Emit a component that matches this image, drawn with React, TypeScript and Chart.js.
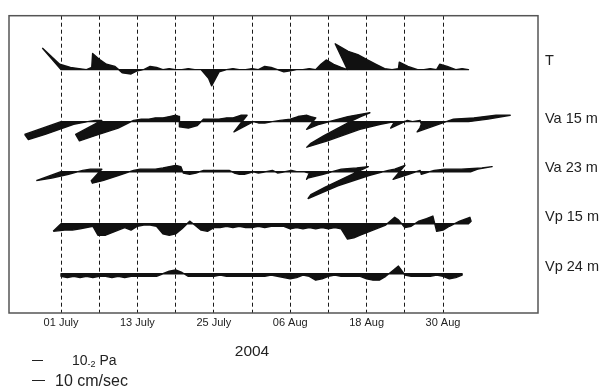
import React, { useEffect, useRef } from 'react';
import { Chart, registerables } from 'chart.js';

Chart.register(...registerables);

// ---- time axis (days since 01 July 2004) ----
const DAY_MIN = -8.17;
const DAY_MAX = 74.92;
const GRID_DAYS = [0, 6, 12, 18, 24, 30, 36, 42, 48, 54, 60];
const LABEL_DAYS = [0, 12, 24, 36, 48, 60];
const TICK_LABELS = ['01 July', '13 July', '25 July', '06 Aug', '18 Aug', '30 Aug'];
const YEAR_LABEL = '2004';
const ROW_LABELS = ['T', 'Va 15 m', 'Va 23 m', 'Vp 15 m', 'Vp 24 m'];

// ---- daily vectors from 01 July ----
// wind stress T (units of 10^-3 Pa)
const T_U = [-17, -7, -3, -1, 0, -1, -6, -5, -5, -3, -2, 0, 0, 0, 0, 0, 0, 0, 0, 0, 0, 0, 0, 1, -2, -1, 0, 0, 0, 0, 0, 0, 0, 0, 0, 0, 0, 0, 0, 0, 0, -1, -2, -1, 0, 0, -17, -11, -8, -5, -3, -1, 0, 0, -5, -3, 0, 0, 0, 0, -3, -2, 0, 0, 0];
const T_V = [20, 5, 2, 1, 0, 2, 15, 9, 5, 3, -3, -4, -1, 0, 3, 2, 0, 1, 0, 0, 1, 0, 0, -8, -15, -2, 0, 1, 0, 0, 1, 0, 3, 2, 0, -2, -1, 0, 0, 1, 0, 5, 9, 5, 2, 0, 24, 17, 14, 9, 5, 1, 0, 1, 7, 3, 0, 0, 1, 0, 5, 3, 0, 1, 0];
// currents (cm/s)
const VA15_U = [-28, -30, -22, -5, 1, 2, 2, -23, -25, -18, -5, 2, 3, 4, 4, 5, 5, 5, 3, -2, 0, 2, 2, 3, 4, 5, 5, 6, 6, -9, 1, 0, 0, 1, 2, 5, 6, 8, 6, 5, -7, -2, 15, 27, 15, 4, -23, -38, -46, -35, -15, -4, 2, -6, 2, 1, 2, -2, -8, -15, 8, 19, 31, 37, 15];
const VA15_V = [-10, -14, -10, -2, 0, 1, 1, -10, -15, -11, -5, 1, 2, 2, 3, 3, 4, 5, 4, -4, -5, -3, 2, 2, 2, 3, 3, 5, 5, -8, 0, -1, -1, 0, 1, 2, 4, 5, 4, 3, -6, -2, 4, 7, 4, 1, -11, -17, -20, -15, -6, -2, 0, -5, 1, 0, 1, -2, -5, -8, 2, 3, 5, 5, 2];
const VA23_U = [-19, -12, -4, 2, 3, 4, 2, -11, -15, -12, -5, 2, 2, 3, 4, 5, 5, 5, 4, 1, 1, 1, 2, 2, 2, 2, 2, 1, 0, -1, 1, 0, 1, 1, 0, 1, 1, 0, 1, 0, -7, -11, -4, 5, 12, 16, -22, -38, -45, -27, -8, 2, 2, 5, -9, -2, 2, -2, 3, 6, 14, 25, 28, 12, 2];
const VA23_V = [-7, -5, -2, 1, 2, 2, 2, -7, -9, -7, -3, 1, 2, 2, 2, 3, 4, 5, 4, -1, -2, -1, 1, 1, 1, 1, 1, -1, -2, -2, 0, -1, 0, 1, -1, 0, 1, 0, 0, -1, -6, -5, -2, 2, 3, 4, -12, -18, -21, -11, -3, 1, 2, 5, -6, -2, 1, -2, 1, 2, 2, 3, 4, 2, 0];
const VP15_U = [-6, -2, -1, 0, 0, 0, -1, 0, 0, 0, 0, 0, 0, 0, 0, 0, 0, 0, 0, 0, 1, 0, 0, 0, 0, 0, 0, 0, 0, 0, 0, 0, 0, 0, 0, 0, 0, 0, 0, 0, 0, 0, 0, 0, 0, 0, 0, 0, 0, 0, 0, 0, 2, 0, 0, 0, 1, 2, 2, 0, 0, 0, 3, 6, 2];
const VP15_V = [-6, -5, -5, -4, -3, -2, -9, -9, -7, -5, -3, -5, -2, -1, -1, -2, -8, -9, -8, -4, 2, -1, -5, -6, -3, -3, -2, -3, -2, -3, -3, -2, -3, -2, -2, -2, -4, -3, -4, -3, -4, -3, -4, -3, -4, -12, -11, -9, -7, -5, -3, -1, 5, 3, -3, -2, 2, 4, 6, -6, -5, -2, 2, 5, 2];
const VP24_U = [0, 0, 0, 0, 0, 0, 0, 0, 0, 0, 0, 0, 0, 0, 0, 0, 0, 0, 0, 0, 0, 0, 0, 0, 0, 0, 0, 0, 0, 0, 0, 0, 0, 0, 0, 0, 0, 0, 0, 0, 0, 0, 0, 0, 0, 0, 0, 0, 0, 0, 0, 0, 0, 0, 0, 0, 0, 0, 0, 0, 0, 0, 0, 0];
const VP24_V = [-2, -3, -2, -3, -2, -3, -2, -2, -3, -2, -3, -2, -2, -2, -2, -2, 0, 2, 3, 1, -2, -2, -2, -2, -2, -1, -2, -2, -2, -2, -2, -2, -2, -1, -2, -3, -4, -3, -1, -2, -5, -4, -2, -1, -2, -2, -2, -2, -4, -5, -5, -2, 2, 6, -1, -2, -2, -2, -2, -1, -2, -4, -3, -1];

// ---- layout / scale constants ----
const PLOT_LEFT = 9;
const PLOT_TOP = 10;
const PLOT_W = 529;
const PLOT_H = 303;
const X_AXIS_H = 387 - PLOT_TOP - PLOT_H;
const RIGHT_AXIS_W = 599 - PLOT_LEFT - PLOT_W;
const PX_PER_DAY = PLOT_W / (DAY_MAX - DAY_MIN);
const PX_PER_STRESS = 1.1; // px per 10^-3 Pa
const PX_PER_CMS = 1.3; // px per cm/s
const ROW_BASE = [55, 108, 159, 212, 263];
const ROW_LABEL_Y = [46, 105, 155, 205, 256];
const FONT = '"Liberation Sans", Arial, sans-serif';

function stickPolygon(u: number[], v: number[], k: number, base: number) {
  const tips = u.map((ui, i) => ({ x: i + (ui * k) / PX_PER_DAY, y: base - v[i] * k }));
  const bases = u.map((_, i) => ({ x: i, y: base })).reverse();
  return [...tips, ...bases, tips[0]];
}

const ROWS = [
  { u: T_U, v: T_V, k: PX_PER_STRESS },
  { u: VA15_U, v: VA15_V, k: PX_PER_CMS },
  { u: VA23_U, v: VA23_V, k: PX_PER_CMS },
  { u: VP15_U, v: VP15_V, k: PX_PER_CMS },
  { u: VP24_U, v: VP24_V, k: PX_PER_CMS },
];

const framePlugin = {
  id: 'frame',
  afterDatasetsDraw(chart: any) {
    const { ctx, chartArea } = chart;
    ctx.save();
    ctx.strokeStyle = '#555';
    ctx.lineWidth = 1.5;
    ctx.strokeRect(chartArea.left, chartArea.top, chartArea.right - chartArea.left, chartArea.bottom - chartArea.top);
    ctx.restore();
  },
};

const notesPlugin = {
  id: 'notes',
  afterDraw(chart: any) {
    const ctx = chart.ctx;
    ctx.save();
    ctx.fillStyle = '#222';
    ctx.strokeStyle = '#222';
    ctx.textBaseline = 'alphabetic';
    ctx.textAlign = 'center';
    ctx.font = `15.5px ${FONT}`;
    ctx.fillText(YEAR_LABEL, 252, 356);
    // scale bars
    ctx.lineWidth = 1;
    ctx.beginPath();
    ctx.moveTo(32, 360.5);
    ctx.lineTo(32 + 10 * PX_PER_STRESS, 360.5);
    ctx.moveTo(32, 380.5);
    ctx.lineTo(32 + 10 * PX_PER_CMS, 380.5);
    ctx.stroke();
    ctx.textAlign = 'left';
    ctx.font = `14px ${FONT}`;
    ctx.fillText('10', 72, 365);
    const w10 = ctx.measureText('10').width;
    ctx.font = `9px ${FONT}`;
    ctx.fillText('-2', 72 + w10, 367);
    const wExp = ctx.measureText('-2').width;
    ctx.font = `14px ${FONT}`;
    ctx.fillText(' Pa', 72 + w10 + wExp, 365);
    ctx.font = `16px ${FONT}`;
    ctx.fillText('10 cm/sec', 55, 386);
    ctx.restore();
  },
};

export default function App() {
  const ref = useRef<HTMLCanvasElement | null>(null);
  useEffect(() => {
    if (!ref.current) return;
    Chart.defaults.font.family = FONT;
    const chart = new Chart(ref.current, {
      type: 'line',
      data: {
        datasets: ROWS.map((r, i) => ({
          label: ROW_LABELS[i],
          data: stickPolygon(r.u, r.v, r.k, ROW_BASE[i]),
          borderColor: '#111',
          backgroundColor: '#111',
          borderWidth: 1.4,
          borderJoinStyle: 'round',
          fill: 'shape',
          pointRadius: 0,
          tension: 0,
          yAxisID: 'y',
        })),
      },
      options: {
        animation: false,
        responsive: true,
        maintainAspectRatio: false,
        events: [],
        layout: { padding: { left: PLOT_LEFT, top: PLOT_TOP, right: 0, bottom: 0 } },
        plugins: { legend: { display: false }, tooltip: { enabled: false } },
        scales: {
          x: {
            type: 'linear',
            position: 'bottom',
            min: DAY_MIN,
            max: DAY_MAX,
            afterBuildTicks: (s: any) => {
              s.ticks = GRID_DAYS.map((v) => ({ value: v }));
            },
            afterFit: (s: any) => {
              s.height = X_AXIS_H;
            },
            ticks: {
              autoSkip: false,
              maxRotation: 0,
              padding: 3,
              color: '#222',
              font: { size: 11 },
              callback: (val: any) => {
                const i = LABEL_DAYS.indexOf(Number(val));
                return i >= 0 ? TICK_LABELS[i] : '';
              },
            },
            grid: { color: '#1a1a1a', lineWidth: 1, drawTicks: false },
            border: { display: false, dash: [4, 3] },
          },
          y: { type: 'linear', display: false, min: 0, max: PLOT_H, reverse: true },
          yr: {
            type: 'linear',
            position: 'right',
            min: 0,
            max: PLOT_H,
            reverse: true,
            afterBuildTicks: (s: any) => {
              s.ticks = ROW_LABEL_Y.map((v) => ({ value: v }));
            },
            afterFit: (s: any) => {
              s.width = RIGHT_AXIS_W;
            },
            ticks: {
              autoSkip: false,
              padding: 7,
              color: '#222',
              font: { size: 14.5 },
              callback: (_v: any, i: number) => ROW_LABELS[i],
            },
            grid: { display: false, drawTicks: false },
            border: { display: false },
          },
        },
      } as any,
      plugins: [framePlugin, notesPlugin],
    });
    return () => chart.destroy();
  }, []);
  return (
    <div style={{ position: 'fixed', left: 0, top: 0, width: 599, height: 387, background: '#fff' }}>
      <canvas ref={ref} />
    </div>
  );
}
